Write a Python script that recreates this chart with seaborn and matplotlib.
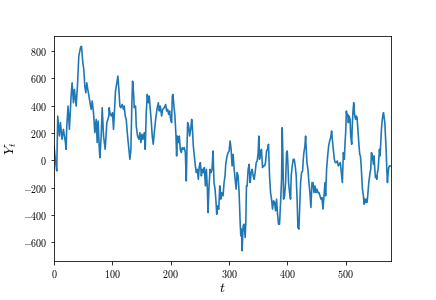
import matplotlib
matplotlib.use("Agg")
import matplotlib.pyplot as plt
import seaborn as sns
import numpy as np
import pandas as pd

# time index values
t = [0, 2.3, 4.6, 6.3, 9.2, 10.9, 13.7, 16, 19.5, 20.6, 21.8, 24, 26.3, 29.2, 30.9, 33.2, 34.9, 37.8,
     40.1, 42.4, 45.2, 47, 49.3, 51, 52.7, 54.4, 56.1, 57.8, 60.7, 63.6, 65.3, 67.6, 69.9, 72.2, 73.9,
     75.6, 77.3, 78.5, 80.8, 82.5, 84.8, 87.6, 90.5, 93.9,
     94.5, 96.2, 98.5, 100.2, 101.9, 104.2, 105.3, 107.6, 109.4, 111.1, 112.8, 114.5, 116.8, 119.1,
     120.2, 122, 123.7, 126, 128.3, 130, 131.7, 133.4, 134.6, 136.3, 137.4, 139.7, 140.9, 143.1, 145.4,
     147.2, 148.9, 150.6, 152.3, 154.6, 156.3, 158, 159.8, 161.5, 163.2, 164.9, 166.6, 168.3, 170,
     171.8, 174.1, 176.4, 178.7, 180.4, 182.1, 184.4, 186.1, 189, 191.3, 193, 194.7, 196.4,
     198.1, 199.8, 201.5, 202.7, 203.8, 205.5, 207.2, 209, 210.1, 211.2, 213, 214.7, 216.4, 218.1,
     219.8, 221.6, 223.3, 225, 226.7, 227.9, 229, 230.7, 232.4, 234.2, 235.9, 237, 238.7, 240.5, 242.2,
     243.9, 245.6, 247.3, 249, 250.8, 252.5, 254.2, 255.9, 257.6, 259.4, 261.1, 262.8, 263.9, 265.7,
     267.4, 269.1, 270.8, 272.5, 274.2, 276, 277.7, 278.8, 280.5, 282.3, 284, 285.7, 287.4, 289.7,
     291.4, 293.1, 294.3,
     296.6, 298.3, 300.1, 301.8, 303.5, 305.2, 306.9, 308.7, 310.4, 312.1, 313.8, 315.5, 317.2, 319,
     320.1, 321.3, 322.4, 324.1, 325.8, 327.6, 328.7, 329.8, 331, 332.7, 334.4, 336.1, 337.9, 339.6,
     341.3, 343, 344.7, 346.5, 348.2, 349.9, 351, 352.2, 353.9, 355.6, 357.3, 359, 360.8, 362.5, 364.2,
     365.9, 367.6, 369.4, 371.1, 372.8, 374.5, 376.2, 378, 379.7, 381.4, 383.1, 384.8, 386.5, 388.3,
     390, 391.1, 392.3, 393.4, 395.1, 396.9,
     398.5, 399.7, 400.8, 402, 403.7, 405.4, 406.5, 408.3, 410, 411.7, 413.4, 415.1, 416.8, 418, 419.7,
     420.9, 422.6, 424.3, 426, 427.2, 428.3, 430, 431.2, 432.3, 433.5, 435.2, 436.9, 438.6, 440.3,
     442.1, 443.8, 445.5, 447.2, 448.9, 450.6, 452.4, 454.1, 455.8, 457.5, 459.2, 461, 462.7, 464.4,
     465.5, 467.2, 469, 470.7, 472.4, 474.1, 475.8, 477, 478.7, 480.4, 482.1, 483.9, 485.6, 487.3, 489,
     490.7, 492.4, 494.2, 495.9,
     497.6, 498.8, 499.9, 501.1, 502.2, 503.4, 504.5, 505.7, 507.4, 508.5, 510.2, 511.4, 512.5, 513.7,
     514.8, 516, 517.1, 518.3, 519.4, 520.6, 521.7, 522.8, 524, 525.1, 526.3, 527.4, 528.6, 530.3,
     531.4, 532.6, 533.7, 534.9, 536, 537.2, 538.3, 539.5, 540.6, 541.7, 542.9, 544, 545.2, 546.3,
     547.5, 548.6, 549.8, 550.9, 552.1, 553.2, 554.3, 555.5, 556.6, 557.8, 558.9, 560.1, 561.2, 562.4,
     563.5, 564.7, 565.8, 567, 568.1, 569.2, 570.4, 571.5, 572.7, 573.8, 575, 577]

# series values Y_t
y = [104, -5, -78, 323, 177, 275, 153, 226, 129, 80, 250, 396, 226, 469, 566, 420, 518, 396,
     542, 761, 821, 833, 712, 663, 542, 493, 566, 518, 445, 372, 433, 347, 202, 299, 129,
     287, 104, 19, 177, 384, 177, 80, 275, 323,
     384, 335, 323, 347, 226, 420, 505, 566, 615, 518, 396, 384, 408, 372,
     396, 323, 299, 177, 80, 7, 80, 420, 578, 493, 384, 396, 250, 177, 153,
     202, 129, 190, 153, 202, 80, 347, 481, 420, 469, 372, 287, 177, 117,
     202, 299, 372, 420, 360, 396, 323, 372, 384, 408, 360, 372, 335,
     360, 299, 275, 469, 481, 396, 323, 177, 32, 177, 129, 177, 80, 56,
     92, 80, 92, 56, -151, 104, 275, 250, 177, 226, 299, 250, 104, 32, -41,
     -90, -66, -139, -41, -17, -114, -66, -90, -53, -187, -66, -211, -382, -187,
     -66, -90, -66, 68, -163, -211, -309, -394, -333, -357, -187, -284, -236, -260,
     -163, -114, -29,
     32, 56, 68, 141, 80, -41, 44, -66, -139, -211, -90, -114, -236, -454,
     -552, -503, -661, -479, -467, -564, -454, -187, -187, -66, -29, -163, -90, -66,
     -114, -139, -90, -17, -5, 56, 177, 7, 56, 80, -53, -41, -41, -17, 68,
     80, 117, -114, -236, -284, -357, -296, -309, -369, -284, -394, -467, -467, -309,
     -139, 238, 32, -284, -260, -163,
     56, 68, -17, -163, -236, -284, -114, -41, 7, 7, -41, -114, -309, -491, -503,
     -357, -163, -90, -78, 7, 56, 104, 177, 80, -17, -66, -163, -236, -345,
     -163, -163, -236, -187, -236, -211, -236, -236, -260, -284, -272, -357, -260, -163,
     -260, -66, 32, 104, 141, 165, 214, 153, 80, 7, -17, -17, -5, -41, -29,
     -17, -90, -163, 56,
     7, 129, 202, 360, 323, 335, 275, 323, 299, 177, 117, 275, 360, 420,
     348, 311, 299, 323, 311, 238, 177, 104, 44, 32, -29, -114, -211, -260,
     -321, -284, -309, -284, -309, -284, -224, -163, -126, -90, -66, 56, 44, 7,
     -29, 32, -66, -126, -114, -139, -90, -66, 7, 80, 32, 129, 226, 287,
     323, 348, 311, 275, 177, 80, -66, -163, -90, -53, -41, -41]

plt.rcParams.update({
    "font.family": "serif",
    "font.serif": ["cmr10", "DejaVu Serif"],
    "mathtext.fontset": "cm",
    "axes.formatter.use_mathtext": True,
    "axes.unicode_minus": True,
})

df = pd.DataFrame({"t": t, "Y": y})

fig = plt.figure(figsize=(436 / 72, 300 / 72), dpi=72)
ax = fig.add_axes([0.124, 0.13, 0.772, 0.75])
sns.lineplot(data=df, x="t", y="Y", ax=ax, color="#1f77b4", linewidth=1.6,
             estimator=None, sort=False)
ax.set_xlim(0, 577)
ax.set_xticks([0, 100, 200, 300, 400, 500])
ax.set_yticks([-600, -400, -200, 0, 200, 400, 600, 800])
ax.set_xlabel("$t$", fontsize=14, labelpad=2)
ax.set_ylabel("$Y_t$", fontsize=14)
fig.savefig("out.png", dpi=72)
